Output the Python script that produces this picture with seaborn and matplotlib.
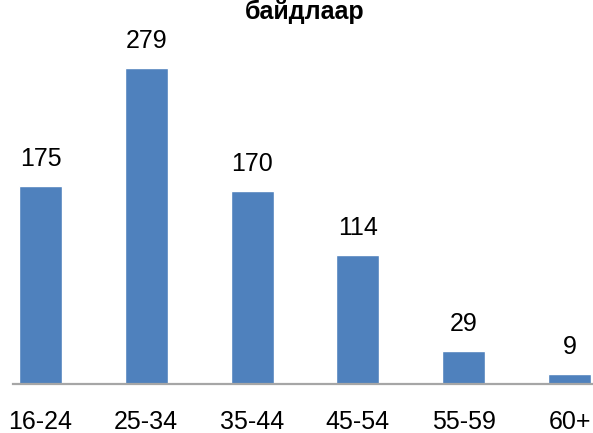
import matplotlib
matplotlib.use("Agg")
import matplotlib.pyplot as plt
import seaborn as sns
import pandas as pd

categories = ["16-24", "25-34", "35-44", "45-54", "55-59", "60+"]
values = [175, 279, 170, 114, 29, 9]
title_text = "байдлаар"

sns.set_style("white")
plt.rcParams['font.family'] = ['Liberation Sans', 'DejaVu Sans']

df = pd.DataFrame({"age": categories, "count": values})

W, H = 593, 433
fig = plt.figure(figsize=(W / 100, H / 100), dpi=100)
ax_left = 13 / W
ax_bottom = (H - 384) / H
ax = fig.add_axes([ax_left, ax_bottom, 1 - ax_left, 1 - ax_bottom])

sns.barplot(data=df, x="age", y="count", color="#4F81BD", saturation=1,
            width=0.406, ax=ax)

px_per_unit = 316 / 279
ax.set_ylim(0, 384 / px_per_unit)
spacing = 105.8
ax.set_xlim(-27.5 / spacing, 5 + 23.5 / spacing)

for c in ax.containers:
    ax.bar_label(c, labels=[str(v) for v in values], padding=11, fontsize=18, color="#000000")

for s in ["top", "left", "right"]:
    ax.spines[s].set_visible(False)
ax.spines["bottom"].set_color("#A6A6A6")
ax.spines["bottom"].set_linewidth(1.6)
ax.set_yticks([])
ax.set_xlabel("")
ax.set_ylabel("")
ax.tick_params(axis="x", length=0, pad=19, labelsize=18, colors="#000000")

fig.text(305 / W, 1 - 19 / H, title_text, ha="center", va="baseline",
         fontsize=18, fontweight="bold", color="#000000")

fig.savefig("out.png", dpi=100)
